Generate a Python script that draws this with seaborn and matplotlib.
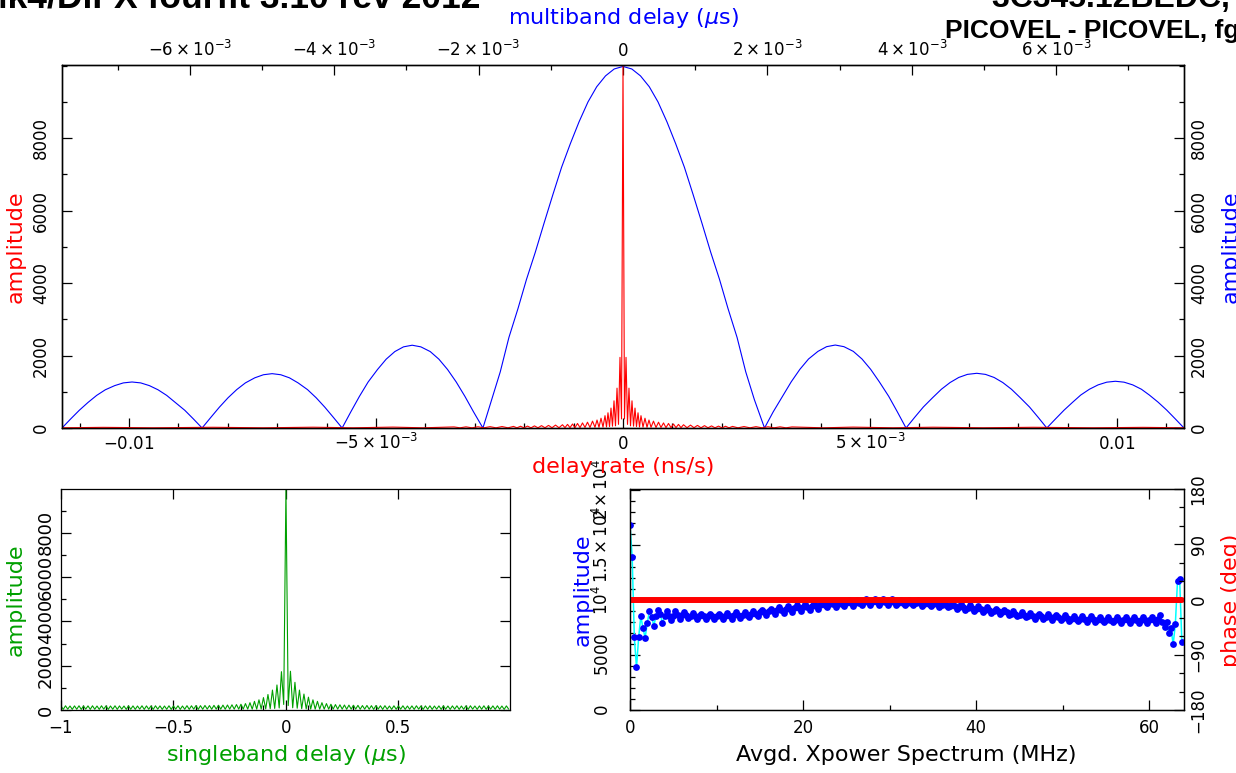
"""Fourfit-style fringe plot: delay-rate / multiband delay, singleband delay, xpower spectrum."""

import matplotlib
matplotlib.use("Agg")
import matplotlib.pyplot as plt
from matplotlib.ticker import MultipleLocator
import numpy as np
import seaborn as sns

W, H = 1236, 773
RED, BLUE, GREEN, CYAN = "#ff0000", "#0000ff", "#00a000", "#00ffff"

# ---- top panel: multiband delay (us) vs amplitude (blue, top axis) ----
mb_delay = [
    -0.00777, -0.00765, -0.00753, -0.00741, -0.00729, -0.00717, -0.00704, -0.00692,
    -0.00680, -0.00668, -0.00656, -0.00644, -0.00632, -0.00620, -0.00607, -0.00595,
    -0.00583, -0.00571, -0.00559, -0.00547, -0.00535, -0.00523, -0.00510, -0.00498,
    -0.00486, -0.00474, -0.00462, -0.00450, -0.00437, -0.00425, -0.00413, -0.00401,
    -0.00389, -0.00377, -0.00365, -0.00353, -0.00340, -0.00328, -0.00316, -0.00304,
    -0.00292, -0.00280, -0.00267, -0.00255, -0.00243, -0.00231, -0.00219, -0.00207,
    -0.00194, -0.00182, -0.00170, -0.00158, -0.001454, -0.001337, -0.001215, -0.001094,
    -0.00097, -0.00085, -0.000729, -0.000609, -0.000485, -0.000364, -0.000242, -0.000122,
    0.0,
    0.000122, 0.000242, 0.000364, 0.000485, 0.000609, 0.000729, 0.00085, 0.00097,
    0.001094, 0.001215, 0.001337, 0.001454, 0.00158, 0.00170, 0.00182, 0.00196,
    0.00208, 0.00221, 0.00233, 0.00245, 0.00257, 0.00270, 0.00282, 0.00294,
    0.00306, 0.00319, 0.00331, 0.00343, 0.00355, 0.00368, 0.00380, 0.00392,
    0.00404, 0.00416, 0.00429, 0.00441, 0.00453, 0.00465, 0.00477, 0.00490,
    0.00502, 0.00514, 0.00526, 0.00538, 0.00550, 0.00563, 0.00575, 0.00587,
    0.00599, 0.00611, 0.00623, 0.00634, 0.00646, 0.00658, 0.00670, 0.00682,
    0.00694, 0.00706, 0.00718, 0.00729, 0.00741, 0.00753, 0.00765, 0.00777,
]
mb_amp = [
    0, 250, 490, 705, 900, 1055, 1170, 1245,
    1270, 1245, 1170, 1055, 900, 705, 490, 250,
    0, 290, 575, 835, 1060, 1245, 1385, 1470,
    1500, 1470, 1385, 1245, 1060, 835, 575, 290,
    0, 445, 875, 1270, 1615, 1900, 2110, 2240,
    2285, 2240, 2110, 1900, 1615, 1270, 875, 445,
    0, 780, 1550, 2500, 3300, 4100, 4850, 5650,
    6450, 7200, 7850, 8450, 9000, 9420, 9720, 9910,
    9980,
    9910, 9720, 9420, 9000, 8450, 7850, 7200, 6450,
    5650, 4850, 4100, 3300, 2500, 1550, 780, 0,
    445, 875, 1275, 1620, 1905, 2115, 2245, 2290,
    2245, 2115, 1905, 1620, 1275, 875, 445, 0,
    295, 580, 840, 1070, 1255, 1395, 1480, 1510,
    1480, 1395, 1255, 1070, 840, 580, 295, 0,
    250, 495, 715, 910, 1070, 1190, 1265, 1290,
    1265, 1190, 1070, 910, 715, 495, 250, 0,
]

# ---- top panel: delay rate (ns/s) vs amplitude (red, bottom axis) ----
dr_rate = [
    -1.1356e-2, -1.0526e-2, -9.514e-3, -8.300e-3, -7.287e-3, -6.275e-3, -5.466e-3,
    -4.656e-3, -4.049e-3, -3.421e-3, -3.300e-3, -3.178e-3, -3.057e-3, -2.935e-3,
    -2.814e-3, -2.692e-3, -2.571e-3, -2.449e-3, -2.328e-3, -2.217e-3, -2.146e-3,
    -2.075e-3, -2.004e-3, -1.933e-3, -1.862e-3, -1.792e-3, -1.721e-3, -1.650e-3,
    -1.579e-3, -1.508e-3, -1.437e-3, -1.366e-3, -1.296e-3, -1.225e-3, -1.174e-3,
    -1.123e-3, -1.073e-3, -1.022e-3, -9.72e-4, -9.21e-4, -8.70e-4, -8.20e-4,
    -7.69e-4, -7.19e-4, -6.68e-4, -6.17e-4, -5.67e-4, -5.26e-4, -4.86e-4, -4.45e-4,
    -4.05e-4, -3.64e-4, -3.34e-4, -3.04e-4, -2.73e-4, -2.43e-4, -2.13e-4, -1.82e-4,
    -1.52e-4, -1.21e-4, -9.1e-5, -6.1e-5, -3.0e-5,
    0.0,
    3.0e-5, 6.1e-5, 9.1e-5, 1.21e-4, 1.52e-4, 1.82e-4, 2.13e-4, 2.43e-4, 2.73e-4,
    3.04e-4, 3.34e-4, 3.64e-4, 4.05e-4, 4.45e-4, 4.86e-4, 5.26e-4,
    5.67e-4, 6.17e-4, 6.68e-4, 7.19e-4, 7.69e-4, 8.20e-4, 8.70e-4, 9.21e-4,
    9.72e-4, 1.022e-3, 1.073e-3, 1.123e-3, 1.174e-3, 1.225e-3, 1.296e-3, 1.366e-3,
    1.437e-3, 1.508e-3, 1.579e-3, 1.650e-3, 1.721e-3, 1.792e-3, 1.862e-3, 1.933e-3,
    2.004e-3, 2.075e-3, 2.146e-3, 2.217e-3, 2.328e-3, 2.449e-3, 2.571e-3, 2.692e-3,
    2.814e-3, 2.935e-3, 3.057e-3, 3.178e-3, 3.300e-3, 3.421e-3, 4.049e-3, 4.656e-3,
    5.466e-3, 6.275e-3, 7.287e-3, 8.300e-3, 9.514e-3, 1.0526e-2, 1.1356e-2,
]
dr_amp = [
    5, 18, 5, 20, 5, 22, 5, 25, 5, 30, 5, 32, 5, 34, 5, 37, 5, 40, 5, 44,
    5, 48, 5, 52, 5, 58, 6, 65, 6, 72, 8, 80, 8, 90, 10, 100, 10, 110, 10, 125,
    10, 140, 15, 160, 15, 190, 20, 220, 20, 270, 25, 340, 30, 420, 40, 550,
    50, 750, 60, 1100, 100, 1950, 250,
    9990,
    250, 1950, 100, 1100, 60, 750, 50, 550, 40, 420, 30, 340, 25, 270, 20, 220,
    20, 190, 15, 160, 15, 140, 10, 125, 10, 110, 10, 100, 10, 90, 8, 80,
    8, 72, 6, 65, 6, 58, 5, 52, 5, 48, 5, 44, 5, 40, 5, 37,
    5, 34, 5, 32, 5, 30, 5, 25, 5, 22, 5, 20, 5, 18, 5,
]

# ---- bottom left: singleband delay (us), sampled every 0.01 us from -1.0 ----
SB_START, SB_STEP = -1.0, 0.01
sb_amp = [
    180, 30, 190, 40, 180, 30, 185, 35, 190, 30,
    180, 40, 185, 30, 190, 35, 180, 30, 190, 40,
    185, 30, 180, 35, 190, 30, 185, 40, 180, 30,
    190, 35, 185, 30, 180, 40, 190, 30, 185, 35,
    180, 30, 190, 40, 185, 30, 180, 35, 190, 30,
    185, 40, 190, 30, 180, 35, 195, 30, 190, 40,
    200, 30, 195, 35, 205, 40, 200, 35, 210, 40,
    215, 40, 220, 35, 225, 40, 235, 40, 245, 40,
    260, 40, 290, 40, 330, 40, 390, 40, 460, 45,
    560, 50, 700, 60, 900, 70, 1130, 90, 1730, 250,
    10000, 200, 1750, 100, 1250, 80, 900, 60, 720, 50,
    580, 45, 460, 40, 390, 40, 330, 40, 290, 40,
    260, 40, 245, 40, 235, 40, 225, 35, 220, 40,
    215, 40, 210, 35, 200, 40, 205, 35, 195, 30,
    200, 40, 190, 30, 195, 35, 180, 30, 190, 35,
    185, 40, 190, 30, 180, 35, 185, 30, 190, 40,
    180, 30, 185, 35, 190, 30, 180, 40, 185, 30,
    190, 35, 180, 30, 185, 40, 190, 30, 180, 35,
    185, 30, 190, 40, 180, 30, 185, 35, 190, 30,
    180, 40, 185, 30, 190, 35, 180, 30, 185, 40,
]

# ---- bottom right: averaged xpower spectrum, one point every 0.25 MHz ----
XP_STEP = 0.25
xp_amp = [
    16770, 13900, 6590, 3870, 6590, 8520, 7400, 6560,
    7910, 8980, 8460, 7640, 8520, 9070, 8700, 7860,
    8500, 8950, 8500, 8120, 8550, 8950, 8600, 8250,
    8600, 8850, 8600, 8350, 8550, 8800, 8550, 8300,
    8500, 8750, 8500, 8250, 8500, 8750, 8500, 8250,
    8500, 8750, 8500, 8250, 8550, 8800, 8550, 8300,
    8600, 8850, 8600, 8350, 8650, 8900, 8650, 8400,
    8750, 9000, 8750, 8500, 8850, 9100, 8850, 8600,
    8950, 9200, 8950, 8700, 9050, 9300, 9050, 8800,
    9150, 9400, 9150, 8900, 9250, 9500, 9250, 9000,
    9350, 9600, 9350, 9100, 9450, 9700, 9450, 9200,
    9550, 9800, 9550, 9300, 9600, 9850, 9600, 9350,
    9650, 9900, 9650, 9400, 9700, 9950, 9700, 9450,
    9750, 10000, 9750, 9500, 9800, 10050, 9800, 9550,
    9800, 10050, 9800, 9550, 9800, 10050, 9800, 9550,
    9800, 10050, 9800, 9550, 9750, 10000, 9750, 9500,
    9750, 10000, 9750, 9500, 9700, 9950, 9700, 9450,
    9650, 9900, 9650, 9400, 9600, 9850, 9600, 9350,
    9550, 9800, 9550, 9300, 9450, 9700, 9450, 9200,
    9350, 9600, 9350, 9100, 9250, 9500, 9250, 9000,
    9150, 9400, 9150, 8900, 9050, 9300, 9050, 8800,
    8950, 9200, 8950, 8700, 8850, 9100, 8850, 8600,
    8750, 9000, 8750, 8500, 8650, 8900, 8650, 8400,
    8550, 8800, 8550, 8300, 8500, 8750, 8500, 8250,
    8450, 8700, 8450, 8200, 8400, 8650, 8400, 8150,
    8350, 8600, 8350, 8100, 8300, 8550, 8300, 8050,
    8250, 8500, 8250, 8000, 8250, 8500, 8250, 8000,
    8200, 8450, 8200, 7950, 8200, 8450, 8200, 7950,
    8150, 8400, 8150, 7900, 8150, 8400, 8150, 7900,
    8150, 8400, 8150, 7900, 8150, 8400, 8150, 7900,
    8150, 8400, 8150, 7900, 8300, 8650, 8000, 7500,
    8000, 7000, 7400, 5950, 7800, 11700, 11850, 6200,
]
ph_freq = [0, 4, 8, 12, 16, 20, 24, 28, 32, 36, 40, 44, 48, 52, 56, 60, 63.75]
ph_deg = [0, 0, 0, 0, 0, 0, 0, 0, 0, 0, 0, 0, 0, 0, 0, 0, 0]

# tick values / labels
mb_ticks = [-0.006, -0.004, -0.002, 0, 0.002, 0.004, 0.006]
mb_labels = [r"$-6\times10^{-3}$", r"$-4\times10^{-3}$", r"$-2\times10^{-3}$", r"$0$",
             r"$2\times10^{-3}$", r"$4\times10^{-3}$", r"$6\times10^{-3}$"]
dr_ticks = [-0.01, -0.005, 0, 0.005, 0.01]
dr_labels = [r"$-0.01$", r"$-5\times10^{-3}$", r"$0$", r"$5\times10^{-3}$", r"$0.01$"]
amp_ticks = [0, 2000, 4000, 6000, 8000]
amp_labels = ["0", "2000", "4000", "6000", "8000"]
sb_ticks = [-1, -0.5, 0, 0.5]
sb_labels = ["\u22121", "\u22120.5", "0", "0.5"]
xp_ticks = [0, 20, 40, 60]
xp_labels = ["0", "20", "40", "60"]
xa_ticks = [0, 5000, 10000, 15000, 20000]
xa_labels = [r"$0$", r"$5000$", r"$10^4$", r"$1.5\times10^4$", r"$2\times10^4$"]
ph_ticks = [-180, -90, 0, 90, 180]
ph_labels = ["\u2212180", "\u221290", "0", "90", "180"]

sns.set_theme(style="ticks")
plt.rcParams["font.family"] = ["DejaVu Sans"]
plt.rcParams["mathtext.fontset"] = "dejavusans"
plt.rcParams["axes.linewidth"] = 0.9
plt.rcParams["axes.edgecolor"] = "black"

TICK_FS = 12
LABEL_FS = 16


def px_box(x0, y0, x1, y1):
    return [x0 / W, 1 - y1 / H, (x1 - x0) / W, (y1 - y0) / H]


def fig_text(x, y, s, **kw):
    fig.text(x / W, 1 - y / H, s, ha="center", va="center", **kw)


def style_ticks(ax, axis, labelsize=TICK_FS, **kw):
    ax.tick_params(axis=axis, which="major", length=7, width=0.9, direction="in",
                   labelsize=labelsize, colors="black", **kw)
    ax.tick_params(axis=axis, which="minor", length=3.6, width=0.9, direction="in",
                   colors="black")


def center_ylabels(ax):
    for t in ax.yaxis.get_major_ticks():
        t.label1.set_va("center")
        t.label2.set_va("center")


fig = plt.figure(figsize=(W / 100, H / 100), dpi=100)

# ---------------- top panel ----------------
ax_mb = fig.add_axes(px_box(62, 65, 1184, 428))
ax_dr = ax_mb.twiny()
ax_r = ax_mb.twinx()

sns.lineplot(x=mb_delay, y=mb_amp, ax=ax_mb, color=BLUE, linewidth=0.8,
             estimator=None, errorbar=None)
sns.lineplot(x=dr_rate, y=dr_amp, ax=ax_dr, color=RED, linewidth=0.8,
             estimator=None, errorbar=None)

ax_mb.set_xlim(-0.00777, 0.00777)
ax_dr.set_xlim(-0.011356, 0.011356)
ax_mb.set_ylim(0, 10020)
ax_r.set_ylim(0, 10020)

ax_mb.xaxis.tick_top()
ax_mb.set_xticks(mb_ticks, labels=mb_labels)
ax_mb.xaxis.set_minor_locator(MultipleLocator(0.001))
style_ticks(ax_mb, "x", top=True, bottom=False, labeltop=True, labelbottom=False, pad=6.5)
for t in ax_mb.xaxis.get_major_ticks():
    t.label2.set_va("baseline")

ax_dr.xaxis.tick_bottom()
ax_dr.set_xticks(dr_ticks, labels=dr_labels)
ax_dr.xaxis.set_minor_locator(MultipleLocator(0.001))
style_ticks(ax_dr, "x", top=False, bottom=True, labeltop=False, labelbottom=True, pad=15)
for t in ax_dr.xaxis.get_major_ticks():
    t.label1.set_va("baseline")

ax_mb.set_yticks(amp_ticks, labels=amp_labels)
ax_mb.yaxis.set_minor_locator(MultipleLocator(1000))
style_ticks(ax_mb, "y", left=True, right=False, labelleft=True, labelright=False,
            labelrotation=90, pad=8.5)
ax_r.set_yticks(amp_ticks, labels=amp_labels)
ax_r.yaxis.set_minor_locator(MultipleLocator(1000))
style_ticks(ax_r, "y", left=False, right=True, labelleft=False, labelright=True,
            labelrotation=90, pad=4.3)
center_ylabels(ax_mb)
center_ylabels(ax_r)
for a in (ax_mb, ax_dr, ax_r):
    a.set_xlabel("")
    a.set_ylabel("")

# ---------------- bottom left: singleband delay ----------------
ax_sb = fig.add_axes(px_box(61, 489, 510, 710))
sb_delay = np.round(SB_START + SB_STEP * np.arange(len(sb_amp)), 2)
sns.lineplot(x=sb_delay, y=sb_amp, ax=ax_sb, color=GREEN, linewidth=0.8,
             estimator=None, errorbar=None)
ax_sb.set_xlim(-1.0, 0.996)
ax_sb.set_ylim(0, 9980)
ax_sb.set_xticks(sb_ticks, labels=sb_labels)
ax_sb.xaxis.set_minor_locator(MultipleLocator(0.1))
ax_sb.set_yticks(amp_ticks, labels=amp_labels)
ax_sb.yaxis.set_minor_locator(MultipleLocator(1000))
style_ticks(ax_sb, "x", top=True, bottom=True, pad=6.5)
style_ticks(ax_sb, "y", labelsize=13, left=True, right=True, labelrotation=90, pad=4.5)
center_ylabels(ax_sb)
ax_sb.set_xlabel("")
ax_sb.set_ylabel("")

# ---------------- bottom right: xpower spectrum ----------------
ax_xp = fig.add_axes(px_box(630, 489, 1184, 710))
ax_ph = ax_xp.twinx()
xp_freq = XP_STEP * np.arange(len(xp_amp))
sns.lineplot(x=xp_freq, y=xp_amp, ax=ax_xp, color=CYAN, linewidth=1.1,
             estimator=None, errorbar=None)
sns.scatterplot(x=xp_freq, y=xp_amp, ax=ax_xp, color=BLUE, s=24, linewidth=0, zorder=3)
sns.lineplot(x=ph_freq, y=ph_deg, ax=ax_ph, color=RED, linewidth=4.3,
             estimator=None, errorbar=None)
ax_xp.set_xlim(0, 64)
ax_xp.set_ylim(0, 20050)
ax_ph.set_ylim(-180, 180)
ax_xp.set_xticks(xp_ticks, labels=xp_labels)
ax_xp.xaxis.set_minor_locator(MultipleLocator(10))
ax_xp.set_yticks(xa_ticks, labels=xa_labels)
ax_xp.yaxis.set_minor_locator(MultipleLocator(1000))
style_ticks(ax_xp, "x", top=True, bottom=True, pad=6.5)
style_ticks(ax_xp, "y", left=True, right=False, labelrotation=90, pad=13)
ax_ph.set_yticks(ph_ticks, labels=ph_labels)
ax_ph.yaxis.set_minor_locator(MultipleLocator(30))
style_ticks(ax_ph, "y", left=False, right=True, labelright=True, labelrotation=90, pad=4)
center_ylabels(ax_xp)
center_ylabels(ax_ph)
for a in (ax_xp, ax_ph):
    a.set_xlabel("")
    a.set_ylabel("")

# ---------------- axis titles ----------------
fig_text(623, 18, r"multiband delay ($\mu$s)", color=BLUE, fontsize=LABEL_FS)
fig_text(623, 467, "delay rate (ns/s)", color=RED, fontsize=LABEL_FS)
fig_text(16, 247, "amplitude", color=RED, fontsize=LABEL_FS, rotation=90)
fig_text(1231, 247, "amplitude", color=BLUE, fontsize=LABEL_FS, rotation=90)
fig_text(16, 600, "amplitude", color=GREEN, fontsize=LABEL_FS, rotation=90)
fig_text(286, 755, r"singleband delay ($\mu$s)", color=GREEN, fontsize=LABEL_FS)
fig_text(583, 590, "amplitude", color=BLUE, fontsize=LABEL_FS, rotation=90)
fig_text(906, 755, "Avgd. Xpower Spectrum (MHz)", color="black", fontsize=LABEL_FS)
fig_text(1231, 600, "phase (deg)", color=RED, fontsize=LABEL_FS, rotation=90)

# ---------------- header (clipped at the page edge) ----------------
head = dict(family=["Liberation Sans", "DejaVu Sans"], fontweight="bold",
            color="black", va="baseline", ha="left")
fig.text(-22 / W, 1 - 7 / H, "Mk4/DiFX fourfit 3.10 rev 2012", fontsize=25.5, **head)
fig.text(992 / W, 1 - 7 / H, "3C345.12BEDC, No0001", fontsize=23, **head)
fig.text(945 / W, 1 - 38 / H, "PICOVEL - PICOVEL, fgroup a, pol RR", fontsize=19, **head)

fig.savefig("out.png", dpi=100)
